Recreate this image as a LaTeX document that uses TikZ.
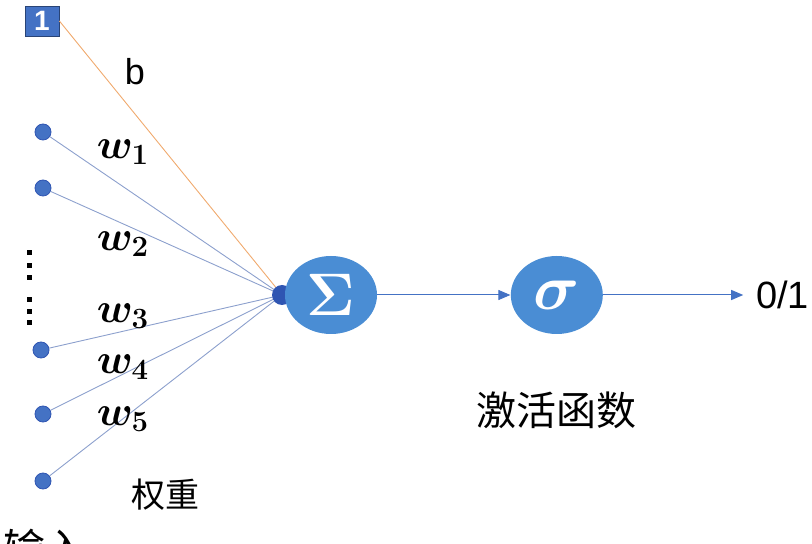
\RequirePackage{fix-cm}
\documentclass[tikz,border=0pt]{standalone}
\usepackage{fontspec}
\newfontfamily\cjk{Noto Sans CJK SC}
\newfontfamily\arial{Liberation Sans}
\usetikzlibrary{shapes.geometric, arrows.meta, positioning}
\definecolor{nodeblue}{RGB}{74,141,212}
\definecolor{darkblue}{RGB}{47,85,178}
\definecolor{boxblue}{RGB}{68,114,196}
\definecolor{linegray}{RGB}{140,160,205}
\definecolor{biasorange}{RGB}{240,170,110}

\begin{document}
\begin{tikzpicture}[
    x=0.5pt, y=-0.5pt,
    input/.style={circle, fill=boxblue, draw=darkblue, line width=0.4pt, minimum size=8pt, inner sep=0pt},
    unit/.style={ellipse, fill=nodeblue, text=white, minimum width=46pt, minimum height=39pt, inner sep=0pt},
    weight/.style={font=\boldmath\fontsize{21}{22}\selectfont},
    edge/.style={draw=linegray, line width=0.45pt},
    flow/.style={draw=boxblue, line width=0.5pt, -{Triangle[length=6pt, width=5pt]}},
    vdot/.style={rectangle, fill=black, minimum size=2.5pt, inner sep=0pt}
]
\useasboundingbox (0,0) rectangle (812,544);
\clip (0,0) rectangle (812,544);

% bias and inputs
\node (one) [rectangle, fill=boxblue, draw=boxblue!60!black, minimum width=17pt, minimum height=15pt, inner sep=0pt, text=white, font=\arial\bfseries\fontsize{14}{14}\selectfont] at (42,21) {1};
\node (x1) [input] at (43,132) {};
\node (x2) [input] at (43,188) {};
\node (x3) [input] at (41,350) {};
\node (x4) [input] at (43,414) {};
\node (x5) [input] at (43,481) {};
\foreach \y [count=\i] in {253,266,278,300,312,323}
    \node (dot\i) [vdot] at (29,\y) {};

% weights into the summation
\coordinate (hubc) at (282,295);
\draw[edge, draw=biasorange] (one.east) -- (hubc);
\foreach \i in {1,...,5}
    \draw[edge] (x\i) -- (hubc);
\node (hub) [circle, fill=darkblue, minimum size=10pt, inner sep=0pt] at (hubc) {};

% summation and activation
\node (sum) [unit, font=\boldmath\fontsize{30}{30}\selectfont] at (331,295) {$\Sigma$};
\node (act) [unit, right=66.5pt of sum, font=\boldmath\fontsize{32}{32}\selectfont] {$\sigma$};
\node (out) [right=73pt of act, font=\arial\fontsize{19}{19}\selectfont] {0/1};
\draw[flow] (sum) -- (act);
\draw[flow, shorten >=3pt] (act) -- (out);

% labels
\node (b) [font=\arial\fontsize{18}{18}\selectfont] at (135,72) {b};
\node (w1) [weight] at (123,152) {$w_1$};
\node (w2) [weight] at (123,244) {$w_2$};
\node (w3) [weight] at (123,316) {$w_3$};
\node (w4) [weight] at (123,367) {$w_4$};
\node (w5) [weight] at (123,419) {$w_5$};
\node (wlabel) [font=\cjk\fontsize{17}{17}\selectfont] at (165,495) {权重};
\node (actlabel) [below=25pt of act, font=\cjk\fontsize{20}{20}\selectfont] {激活函数};
\node (inlabel) [anchor=north west, font=\cjk\fontsize{21}{21}\selectfont] at (-4,522) {输入};

\end{tikzpicture}
\end{document}
